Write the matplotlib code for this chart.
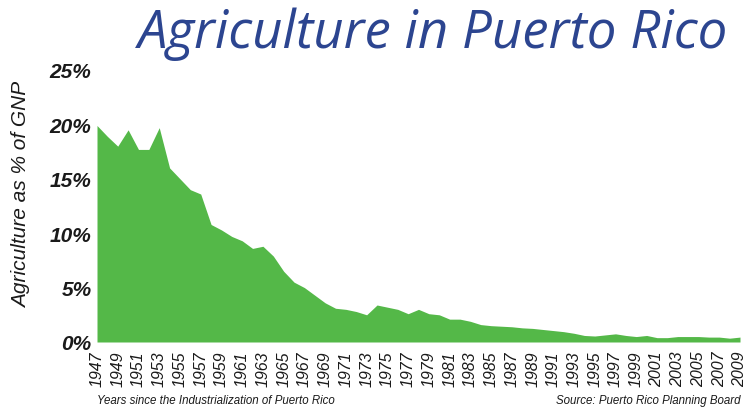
import matplotlib
matplotlib.use("Agg")
import matplotlib.pyplot as plt
import numpy as np

years = list(range(1947, 2010))
share = [19.9, 18.9, 18.0, 19.5, 17.7, 17.7, 19.7, 16.0, 15.0, 14.0,
         13.6, 10.8, 10.3, 9.7, 9.3, 8.6, 8.8, 7.9, 6.5, 5.5,
         5.0, 4.3, 3.6, 3.1, 3.0, 2.8, 2.5, 3.4, 3.2, 3.0,
         2.6, 3.0, 2.6, 2.5, 2.1, 2.1, 1.9, 1.6, 1.5, 1.45,
         1.4, 1.3, 1.25, 1.15, 1.05, 0.95, 0.8, 0.6, 0.55, 0.65,
         0.75, 0.6, 0.5, 0.6, 0.4, 0.4, 0.5, 0.5, 0.5, 0.45,
         0.45, 0.35, 0.45]
yticks = [0, 5, 10, 15, 20, 25]
ytick_labels = ["0%", "5%", "10%", "15%", "20%", "25%"]
xtick_years = list(range(1947, 2010, 2))

W, H = 746, 410
fig = plt.figure(figsize=(W / 100, H / 100), dpi=100)
ax = fig.add_axes([97 / W, 1 - 343 / H, (740 - 97) / W, (343 - 71) / H])

ax.fill_between(years, share, 0, color="#54b848", linewidth=0)
ax.set_xlim(1947, 2009)
ax.set_ylim(0, 25)
for s in ax.spines.values():
    s.set_visible(False)
ax.tick_params(length=0)

ax.set_yticks(yticks)
ax.set_yticklabels(ytick_labels, fontsize=15, fontweight="bold", style="italic",
                   family=["Liberation Sans", "DejaVu Sans"], color="#1a1a1a")
ax.tick_params(axis="y", pad=4)

ax.set_xticks(xtick_years)
ax.set_xticklabels([str(y) for y in xtick_years], rotation=90, fontsize=11.5,
                   style="italic", family=["Liberation Sans", "DejaVu Sans"],
                   color="#1a1a1a")
ax.tick_params(axis="x", pad=6)

fig.text(22 / W, 1 - 195 / H, "Agriculture as % of GNP", rotation=90, ha="center", va="center",
         fontsize=15, style="italic", family=["Liberation Sans", "DejaVu Sans"], color="#1a1a1a")

fig.text(433 / W, 1 - 34 / H, "Agriculture in Puerto Rico", ha="center", va="center",
         fontsize=38, style="italic", family=["Open Sans", "DejaVu Sans"], color="#2c4590")

fig.text(97 / W, 1 - 401 / H, "Years since the Industrialization of Puerto Rico", ha="left", va="center",
         fontsize=8.3, style="italic", family=["Liberation Sans", "DejaVu Sans"],
         color="#1a1a1a")
fig.text(740 / W, 1 - 401 / H, "Source: Puerto Rico Planning Board", ha="right", va="center",
         fontsize=8.3, style="italic", family=["Liberation Sans", "DejaVu Sans"],
         color="#1a1a1a")

fig.savefig("out.png", dpi=100)
